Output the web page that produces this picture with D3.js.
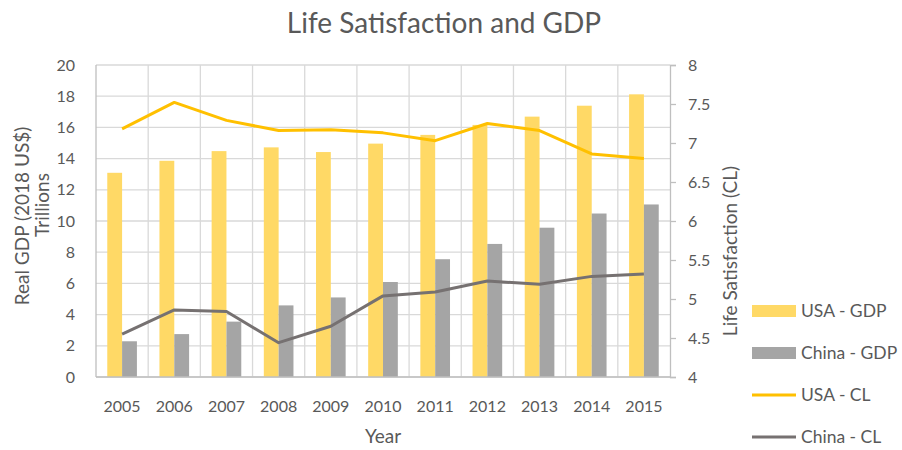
<!DOCTYPE html>
<html>
<head>
<meta charset="utf-8">
<script src="https://cdn.jsdelivr.net/npm/d3@7"></script>
<style>
  body { margin: 0; background: #fff; }
  svg text { font-family: Lato, "Open Sans", sans-serif; fill: #595959; }
</style>
</head>
<body>
<svg id="chart" width="902" height="450"></svg>
<script>
const years = ["2005", "2006", "2007", "2008", "2009", "2010", "2011", "2012", "2013", "2014", "2015"];
const usaGdp = [13.09, 13.86, 14.48, 14.72, 14.42, 14.96, 15.52, 16.16, 16.69, 17.39, 18.12];
const chinaGdp = [2.29, 2.75, 3.55, 4.59, 5.10, 6.09, 7.55, 8.53, 9.57, 10.48, 11.06];
const usaCl = [7.18, 7.52, 7.29, 7.16, 7.17, 7.13, 7.03, 7.25, 7.16, 6.86, 6.80];
const chinaCl = [4.55, 4.86, 4.84, 4.44, 4.65, 5.04, 5.09, 5.23, 5.19, 5.29, 5.32];
const gdpTicks = [0, 2, 4, 6, 8, 10, 12, 14, 16, 18, 20];
const clTicks = [4, 4.5, 5, 5.5, 6, 6.5, 7, 7.5, 8];

const svg = d3.select("#chart");
const plotLeft = 96, plotRight = 670, plotTop = 65, plotBottom = 377;

const x = d3.scaleBand().domain(years).range([plotLeft, plotRight]).paddingInner(0).paddingOuter(0);
const xs = d3.scaleBand().domain(["usa", "china"]).range([0, x.bandwidth()]).paddingInner(0).paddingOuter(0.76);
const yL = d3.scaleLinear().domain([0, 20]).range([plotBottom, plotTop]);
const yR = d3.scaleLinear().domain([4, 8]).range([plotBottom, plotTop]);

// gridlines
svg.append("g")
  .selectAll("line")
  .data(gdpTicks)
  .join("line")
  .attr("x1", plotLeft).attr("x2", plotRight)
  .attr("y1", d => yL(d)).attr("y2", d => yL(d))
  .attr("stroke", "#d9d9d9").attr("stroke-width", 1.3);

svg.append("g")
  .selectAll("line")
  .data(years.slice(1))
  .join("line")
  .attr("x1", d => x(d)).attr("x2", d => x(d))
  .attr("y1", plotTop).attr("y2", plotBottom)
  .attr("stroke", "#d9d9d9").attr("stroke-width", 1.3);

// bars
const bars = [
  { key: "usa", values: usaGdp, color: "#ffd966" },
  { key: "china", values: chinaGdp, color: "#a5a5a5" }
];
bars.forEach(s => {
  svg.append("g")
    .selectAll("rect")
    .data(s.values)
    .join("rect")
    .attr("x", (d, i) => x(years[i]) + xs(s.key))
    .attr("width", xs.bandwidth())
    .attr("y", d => yL(d))
    .attr("height", d => yL(0) - yL(d))
    .attr("fill", s.color);
});

// axis lines
svg.append("line").attr("x1", plotLeft).attr("x2", plotLeft).attr("y1", plotTop).attr("y2", plotBottom)
  .attr("stroke", "#bfbfbf").attr("stroke-width", 1.3);
svg.append("line").attr("x1", plotLeft).attr("x2", plotRight).attr("y1", plotBottom).attr("y2", plotBottom)
  .attr("stroke", "#bfbfbf").attr("stroke-width", 1.3);

// left axis
const axisL = svg.append("g")
  .attr("transform", `translate(${plotLeft},0)`)
  .call(d3.axisLeft(yL).tickValues(gdpTicks).tickSize(0).tickPadding(21));
axisL.select(".domain").remove();
axisL.selectAll("text").style("font-size", "16px").attr("fill", "#595959");

// right axis
const axisR = svg.append("g")
  .attr("transform", `translate(${plotRight},0)`)
  .call(d3.axisRight(yR).tickValues(clTicks).tickSize(6).tickPadding(12).tickFormat(d3.format("")));
axisR.select(".domain").attr("stroke", "#bfbfbf").attr("stroke-width", 1.3);
axisR.selectAll("line").attr("stroke", "#bfbfbf").attr("stroke-width", 1.3);
axisR.selectAll("text").style("font-size", "16px").attr("fill", "#595959");

// bottom axis
const axisB = svg.append("g")
  .attr("transform", `translate(0,${plotBottom})`)
  .call(d3.axisBottom(x).tickSize(0).tickPadding(24));
axisB.select(".domain").remove();
axisB.selectAll("text").style("font-size", "16px").attr("fill", "#595959");

// lines
const lines = [
  { values: usaCl, color: "#ffc000" },
  { values: chinaCl, color: "#767171" }
];
const lineGen = d3.line()
  .x((d, i) => x(years[i]) + x.bandwidth() / 2)
  .y(d => yR(d));
lines.forEach(s => {
  svg.append("path")
    .datum(s.values)
    .attr("d", lineGen)
    .attr("fill", "none")
    .attr("stroke", s.color)
    .attr("stroke-width", 3)
    .attr("stroke-linejoin", "round");
});

// titles
svg.append("text")
  .attr("x", 444).attr("y", 33)
  .attr("text-anchor", "middle")
  .style("font-size", "28px")
  .text("Life Satisfaction and GDP");

svg.append("text")
  .attr("x", 383).attr("y", 443)
  .attr("text-anchor", "middle")
  .style("font-size", "19px")
  .text("Year");

svg.append("text")
  .attr("transform", "translate(29,216) rotate(-90)")
  .attr("text-anchor", "middle")
  .style("font-size", "19px")
  .text("Real GDP (2018 US$)");

svg.append("text")
  .attr("transform", "translate(49,205) rotate(-90)")
  .attr("text-anchor", "middle")
  .style("font-size", "19px")
  .text("Trillions");

svg.append("text")
  .attr("transform", "translate(737,251) rotate(-90)")
  .attr("text-anchor", "middle")
  .style("font-size", "19px")
  .text("Life Satisfaction (CL)");

// legend
const legendItems = [
  { label: "USA - GDP", color: "#ffd966", type: "bar" },
  { label: "China - GDP", color: "#a5a5a5", type: "bar" },
  { label: "USA - CL", color: "#ffc000", type: "line" },
  { label: "China - CL", color: "#767171", type: "line" }
];
const legend = svg.append("g")
  .selectAll("g")
  .data(legendItems)
  .join("g")
  .attr("transform", (d, i) => `translate(752,${311 + i * 42})`);
legend.filter(d => d.type === "bar")
  .append("rect")
  .attr("x", 0).attr("y", -6).attr("width", 44).attr("height", 12)
  .attr("fill", d => d.color);
legend.filter(d => d.type === "line")
  .append("line")
  .attr("x1", 0).attr("x2", 44).attr("y1", 0).attr("y2", 0)
  .attr("stroke", d => d.color).attr("stroke-width", 3);
legend.append("text")
  .attr("x", 49).attr("y", 0).attr("dy", "0.35em")
  .style("font-size", "17.5px")
  .text(d => d.label);
</script>
</body>
</html>
